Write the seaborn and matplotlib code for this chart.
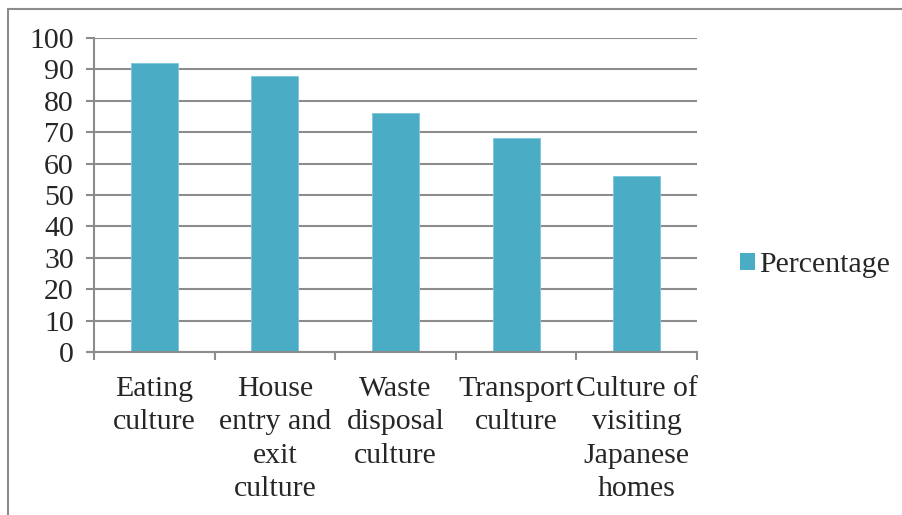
import matplotlib
matplotlib.use("Agg")
import matplotlib.pyplot as plt
from matplotlib.lines import Line2D
from matplotlib.patches import Patch
import seaborn as sns
import pandas as pd

categories = ["Eating\nculture", "House\nentry and\nexit\nculture", "Waste\ndisposal\nculture",
              "Transport\nculture", "Culture of\nvisiting\nJapanese\nhomes"]
percentages = [92, 88, 76, 68, 56]
series_name = "Percentage"
y_ticks = [0, 10, 20, 30, 40, 50, 60, 70, 80, 90, 100]

bar_color = "#4BACC6"
grid_color = "#8C8C8C"

sns.set_theme(style="white")
plt.rcParams["font.family"] = ["Liberation Serif", "DejaVu Serif"]

df = pd.DataFrame({"category": categories, "value": percentages})

fig = plt.figure(figsize=(9.03, 5.15), dpi=100)
ax = fig.add_axes([94 / 903, 163 / 515, (697 - 94) / 903, (352 - 38) / 515])

sns.barplot(data=df, x="category", y="value", color=bar_color, width=0.39,
            saturation=1, edgecolor="#7CC6DA", linewidth=0.6, ax=ax, zorder=3)

ax.set_ylim(0, 100)
ax.set_xlim(-0.5, len(categories) - 0.5)
ax.set_yticks(y_ticks)
ax.set_yticklabels([str(t) for t in y_ticks])
ax.set_xlabel("")
ax.set_ylabel("")

ax.yaxis.grid(True, color=grid_color, linewidth=1.5, zorder=0)
ax.set_axisbelow(True)

for side in ("top", "right"):
    ax.spines[side].set_visible(False)
for side in ("left", "bottom"):
    ax.spines[side].set_color(grid_color)
    ax.spines[side].set_linewidth(1.5)
    ax.spines[side].set_zorder(4)

fs = 21.5
ax.tick_params(axis="y", which="major", direction="out", length=5.5, width=1.5,
               color=grid_color, pad=9, labelsize=fs, left=True)
ax.tick_params(axis="x", which="major", length=0, pad=17, labelsize=fs)
ax.set_xticks([i - 0.5 for i in range(len(categories) + 1)], minor=True)
ax.tick_params(axis="x", which="minor", direction="out", length=6, width=1.5,
               color=grid_color, bottom=True)
for lbl in ax.get_xticklabels():
    lbl.set_linespacing(1.38)
    lbl.set_verticalalignment("top")

handle = Patch(facecolor=bar_color, edgecolor="none")
leg = fig.legend([handle], [series_name], loc="center left",
                 bbox_to_anchor=(719 / 903, 1 - 265 / 515), frameon=False,
                 fontsize=fs, handlelength=0.5, handleheight=0.5,
                 handletextpad=0.15, borderpad=0.2)

# outer frame along the top and left edges
fig.add_artist(Line2D([8 / 903, 1.0], [1 - 9 / 515, 1 - 9 / 515],
                      color=grid_color, linewidth=1.5, transform=fig.transFigure))
fig.add_artist(Line2D([8 / 903, 8 / 903], [0, 1 - 9 / 515],
                      color=grid_color, linewidth=1.5, transform=fig.transFigure))

fig.savefig("out.png", dpi=100)
